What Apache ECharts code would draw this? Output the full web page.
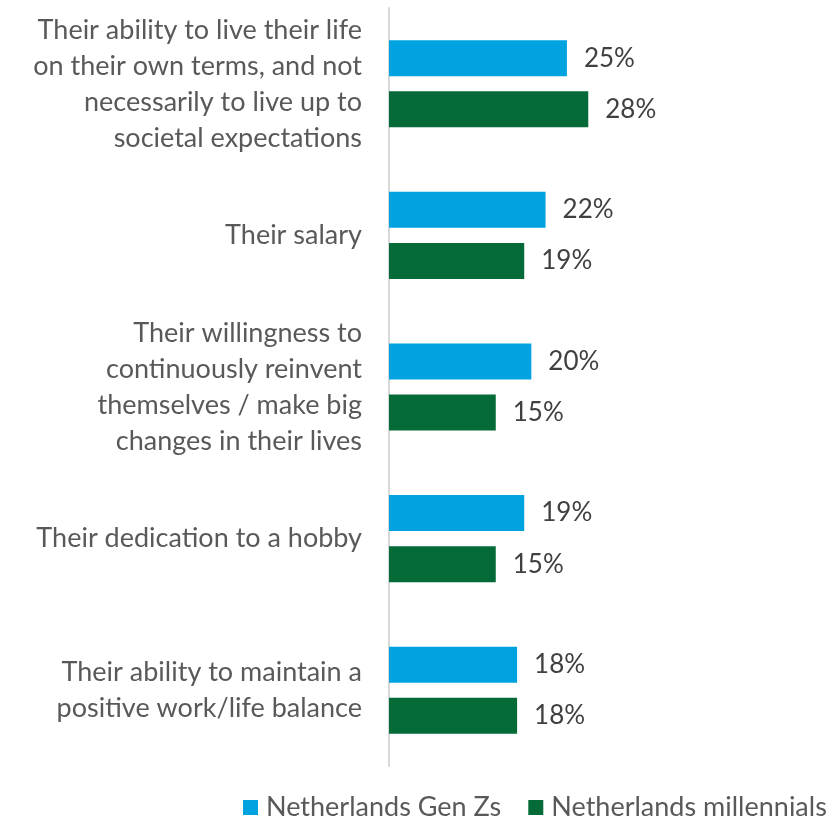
<!DOCTYPE html>
<html>
<head>
<meta charset="utf-8">
<script src="https://cdn.jsdelivr.net/npm/echarts@6/dist/echarts.min.js"></script>
<style>
  html, body { margin: 0; padding: 0; background: #fff; }
  #chart { width: 839px; height: 822px; }
</style>
</head>
<body>
<div id="chart"></div>
<script>
// Survey categories (top to bottom)
const categories = [
  'Their ability to live their life\non their own terms, and not\nnecessarily to live up to\nsocietal expectations',
  'Their salary',
  'Their willingness to\ncontinuously reinvent\nthemselves / make big\nchanges in their lives',
  'Their dedication to a hobby',
  'Their ability to maintain a\npositive work/life balance'
];
// Share of respondents (%)
const genZ = [25, 22, 20, 19, 18];
const millennials = [28, 19, 15, 15, 18];
const seriesNames = ['Netherlands Gen Zs', 'Netherlands millennials'];

const FONT = 'Lato, "Open Sans", sans-serif';
const chart = echarts.init(document.getElementById('chart'));

const valueLabel = {
  show: true,
  position: 'right',
  distance: 17,
  formatter: '{c}%',
  fontFamily: FONT,
  fontSize: 26,
  color: '#404040'
};

chart.setOption({
  animation: false,
  grid: { left: 389, top: 8, height: 758, right: 23 },
  xAxis: {
    type: 'value',
    min: 0,
    max: 60,
    show: false
  },
  yAxis: {
    type: 'category',
    inverse: true,
    data: categories,
    axisLine: { show: true, lineStyle: { color: '#d9d9d9', width: 2 } },
    axisTick: { show: false },
    axisLabel: {
      fontFamily: FONT,
      fontSize: 27,
      color: '#595959',
      align: 'right',
      margin: 27,
      lineHeight: 36
    }
  },
  legend: {
    data: seriesNames,
    left: 243,
    top: 794,
    padding: 0,
    itemWidth: 15,
    itemHeight: 15,
    itemGap: 27,
    icon: 'rect',
    textStyle: { fontFamily: FONT, fontSize: 27, color: '#595959', padding: [0, 0, 0, 3] }
  },
  series: [
    {
      name: seriesNames[0],
      type: 'bar',
      data: genZ,
      barWidth: 36,
      barGap: '42%',
      itemStyle: { color: '#00A3E0' },
      label: valueLabel
    },
    {
      name: seriesNames[1],
      type: 'bar',
      data: millennials,
      barWidth: 36,
      itemStyle: { color: '#046A38' },
      label: valueLabel
    }
  ]
});
</script>
</body>
</html>
